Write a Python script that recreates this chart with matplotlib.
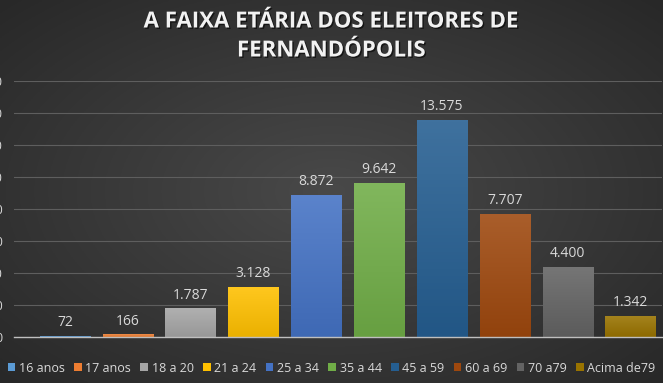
import numpy as np
import matplotlib
matplotlib.use("Agg")
from matplotlib import pyplot as plt
from matplotlib.patches import Patch
from matplotlib.colors import LinearSegmentedColormap, to_rgb
import matplotlib.patheffects as pe

plt.rcParams['font.family'] = ['Open Sans', 'DejaVu Sans']

faixas = ['16 anos', '17 anos', '18 a 20', '21 a 24', '25 a 34',
          '35 a 44', '45 a 59', '60 a 69', '70 a79', 'Acima de79']
eleitores = [72, 166, 1787, 3128, 8872, 9642, 13575, 7707, 4400, 1342]
cores = ['#5b9bd5', '#ed7d31', '#a5a5a5', '#ffc000', '#4472c4',
         '#70ad47', '#255e91', '#9e480e', '#636363', '#997300']
yticks = list(range(0, 16001, 2000))

fig = plt.figure(figsize=(6.63, 3.83), dpi=100)

# fundo com gradiente radial
bg = fig.add_axes([0, 0, 1, 1], zorder=-10)
yy, xx = np.mgrid[-1:1:200j, -1:1:300j]
r = np.sqrt(xx ** 2 + yy ** 2) / np.sqrt(2)
c_in = np.array(to_rgb('#494949'))
c_out = np.array(to_rgb('#282828'))
img = c_in[None, None, :] * (1 - r[..., None]) + c_out[None, None, :] * r[..., None]
bg.imshow(img, aspect='auto', extent=[0, 1, 0, 1])
bg.axis('off')

ax = fig.add_axes([14 / 663, 46 / 383, 648 / 663, 256 / 383])
ax.set_facecolor('none')
x = np.arange(len(faixas))
bars = ax.bar(x, eleitores, width=0.8, color=cores, zorder=3)

# gradiente leve nas barras
for b, c in zip(bars, cores):
    base = np.array(to_rgb(c))
    topo = base + (1 - base) * 0.12
    fundo = base * 0.92
    cmap = LinearSegmentedColormap.from_list('g', [fundo, topo])
    grad = np.linspace(0, 1, 64).reshape(-1, 1)
    x0, y0 = b.get_x(), b.get_y()
    im = ax.imshow(grad, cmap=cmap, aspect='auto', origin='lower',
                   extent=[x0, x0 + b.get_width(), y0, y0 + b.get_height()], zorder=4)
    im.set_clip_path(b)
    b.set_path_effects([pe.SimplePatchShadow(offset=(0, 0), shadow_rgbFace='black', alpha=0.35)])

for xi, v in zip(x, eleitores):
    ax.text(xi, v + 350, f"{v:,}".replace(",", "."), ha='center', va='bottom',
            fontsize=10, color='#d9d9d9', zorder=5)

ax.set_xlim(-0.81, 9.5)
ax.set_ylim(0, 16000)
ax.set_yticks(yticks)
ax.set_yticklabels([f"{t:,}".replace(",", ".") for t in yticks], fontsize=9, color='#d9d9d9')
ax.tick_params(axis='y', length=0, pad=8)
ax.set_xticks([])
ax.grid(axis='y', color='#5e5e5e', linewidth=0.8, zorder=0)
for s in ['top', 'right', 'left']:
    ax.spines[s].set_visible(False)
ax.spines['bottom'].set_color('#bfbfbf')
ax.spines['bottom'].set_linewidth(1)
ax.spines['bottom'].set_zorder(6)

sombra = [pe.withSimplePatchShadow(offset=(1, -1), shadow_rgbFace='black', alpha=0.6)]
fig.text(0.5, 1 - 22 / 383, 'A FAIXA ETÁRIA DOS ELEITORES DE', ha='center', va='center',
         fontsize=16, fontweight='bold', color='#f2f2f2', path_effects=sombra)
fig.text(0.5, 1 - 51 / 383, 'FERNANDÓPOLIS', ha='center', va='center',
         fontsize=16, fontweight='bold', color='#f2f2f2', path_effects=sombra)

handles = [Patch(facecolor=c) for c in cores]
fig.legend(handles, faixas, loc='center', bbox_to_anchor=(0.5, 1 - 368 / 383), ncol=10,
           frameon=False, fontsize=9, labelcolor='#d9d9d9', handlelength=0.6,
           handleheight=0.6, handletextpad=0.3, columnspacing=0.75,
           borderpad=0.1, borderaxespad=0)

fig.savefig('out.png', dpi=100, facecolor='#333333')
